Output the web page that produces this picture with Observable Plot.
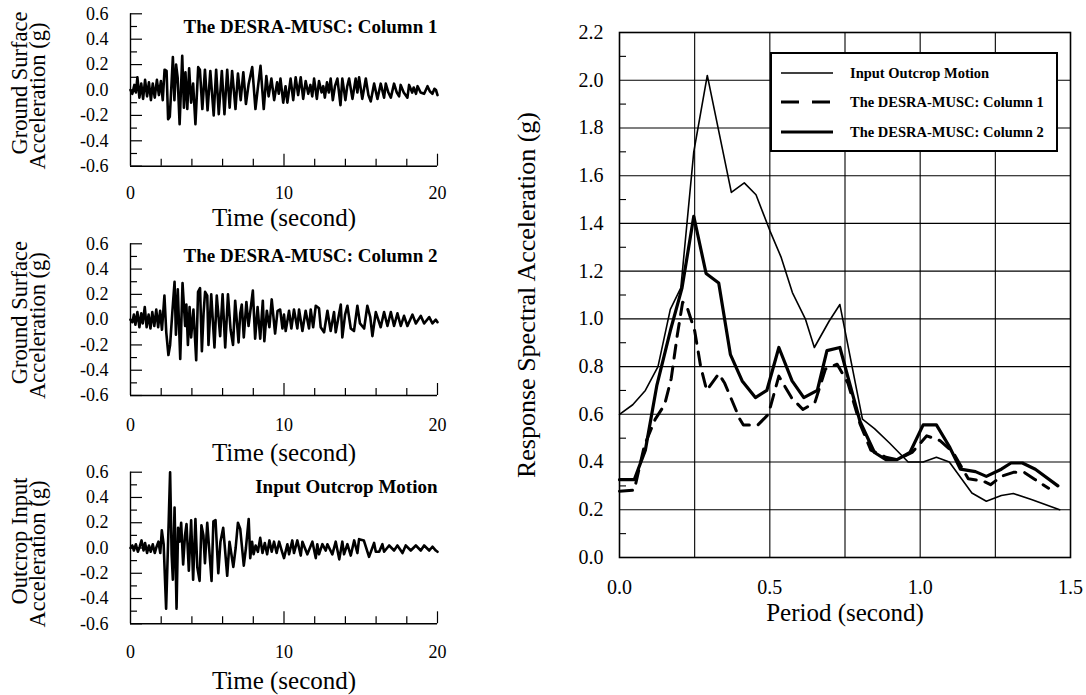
<!DOCTYPE html>
<html>
<head>
<meta charset="utf-8">
<script src="https://cdn.jsdelivr.net/npm/d3@7"></script>
<script src="https://cdn.jsdelivr.net/npm/@observablehq/plot@0.6"></script>
<style>
html, body { margin: 0; padding: 0; background: #fff; }
#wrap { position: relative; width: 1086px; height: 695px; overflow: hidden; background: #fff; }
.panel { position: absolute; }
#legend { position: absolute; left: 770px; top: 52px; width: 284px; height: 96px; border: 2px solid #000; background: #fff; }
#legend svg { display: block; }
</style>
</head>
<body>
<div id="wrap"></div>
<script>
const FONT = '"Liberation Serif", "Times New Roman", Times, serif';

// ---------- Time-history axes ----------
const timeTicks = [0, 10, 20];
const timeMinorTicks = [2, 4, 6, 8, 12, 14, 16, 18];
const accTicks = [-0.6, -0.4, -0.2, 0.0, 0.2, 0.4, 0.6];
const accMinorTicks = [-0.5, -0.3, -0.1, 0.1, 0.3, 0.5];

// ---------- Ground surface acceleration, DESRA-MUSC Column 1 ----------
const col1Time = [0.00,0.12,0.25,0.35,0.45,0.58,0.70,0.82,0.95,1.08,1.20,1.33,1.45,1.58,1.72,1.85,1.98,2.10,2.22,2.35,2.45,2.56,2.66,2.76,2.86,2.97,3.07,3.20,3.37,3.48,3.58,3.70,3.82,3.95,4.08,4.23,4.41,4.52,4.68,4.85,5.02,5.20,5.42,5.58,5.75,5.95,6.12,6.30,6.46,6.62,6.84,7.00,7.18,7.35,7.52,7.70,7.93,8.14,8.30,8.47,8.68,8.85,9.00,9.18,9.36,9.55,9.66,9.77,9.95,10.10,10.22,10.43,10.60,10.76,10.92,11.09,11.25,11.41,11.58,11.72,11.84,11.96,12.14,12.28,12.45,12.56,12.66,12.80,12.92,13.04,13.18,13.32,13.48,13.68,13.80,14.00,14.12,14.24,14.46,14.67,14.78,14.89,15.10,15.33,15.50,15.65,15.87,16.09,16.30,16.52,16.63,16.80,16.96,17.17,17.35,17.50,17.60,17.80,18.04,18.15,18.35,18.45,18.60,18.70,18.90,19.13,19.35,19.50,19.67,19.80,19.90,20.00];
const col1Acc = [0.00,-0.03,0.04,-0.02,0.10,-0.06,0.05,-0.07,0.08,-0.05,0.06,-0.08,0.05,-0.06,0.08,-0.04,0.07,-0.08,0.16,0.15,-0.23,-0.21,0.02,0.26,-0.08,0.20,0.10,-0.27,0.27,-0.14,0.14,-0.15,0.17,-0.10,0.05,-0.27,0.18,0.16,-0.15,0.16,-0.16,0.15,-0.20,0.16,-0.19,0.15,-0.19,0.16,-0.14,0.15,-0.15,0.13,-0.08,0.14,-0.11,0.05,0.18,-0.15,0.02,0.19,-0.15,0.11,-0.05,0.09,-0.08,0.06,-0.03,0.09,-0.10,0.03,-0.10,0.09,-0.08,0.10,-0.04,0.10,-0.07,0.07,-0.03,0.04,-0.05,0.09,-0.07,0.07,-0.02,0.03,-0.06,0.06,-0.02,0.09,-0.08,0.03,0.09,-0.12,0.09,-0.08,0.03,0.09,-0.07,0.09,-0.02,0.10,-0.07,0.09,-0.04,-0.09,0.05,-0.07,0.05,-0.06,0.05,-0.02,-0.06,0.05,-0.02,-0.05,0.04,-0.02,-0.06,0.04,-0.02,0.02,-0.03,0.03,-0.02,-0.03,0.03,-0.01,-0.03,0.01,0.00,-0.04];

// ---------- Ground surface acceleration, DESRA-MUSC Column 2 ----------
const col2Time = [0.00,0.12,0.22,0.32,0.45,0.58,0.70,0.80,0.93,1.05,1.18,1.30,1.42,1.55,1.68,1.80,1.93,2.05,2.21,2.33,2.47,2.58,2.72,2.87,2.96,3.08,3.24,3.39,3.56,3.64,3.74,3.85,3.95,4.10,4.28,4.40,4.53,4.65,4.76,4.86,5.00,5.08,5.26,5.47,5.62,5.84,6.00,6.17,6.35,6.52,6.68,6.82,7.04,7.15,7.25,7.38,7.55,7.69,7.97,8.12,8.28,8.45,8.62,8.72,8.88,9.05,9.20,9.42,9.58,9.75,9.90,10.00,10.11,10.33,10.48,10.65,10.87,10.98,11.20,11.41,11.63,11.74,11.90,12.07,12.28,12.39,12.61,12.83,13.04,13.26,13.37,13.70,13.80,13.98,14.13,14.35,14.56,14.78,14.95,15.22,15.43,15.62,15.76,15.98,16.30,16.52,16.74,16.96,17.17,17.39,17.61,17.82,18.04,18.37,18.59,18.91,19.13,19.46,19.67,19.89,20.00];
const col2Acc = [0.00,-0.02,0.04,-0.04,0.06,-0.06,0.05,-0.03,0.10,-0.06,0.04,-0.07,0.06,-0.05,0.08,-0.06,0.07,-0.08,0.19,-0.10,-0.28,-0.20,0.05,0.30,-0.12,0.24,-0.31,0.29,-0.05,0.12,-0.20,0.10,-0.14,0.08,-0.32,0.22,0.25,-0.25,0.05,0.22,0.19,-0.20,0.20,-0.22,0.19,-0.13,0.20,-0.22,0.20,-0.08,-0.20,0.15,-0.18,0.05,0.12,-0.14,0.14,-0.05,0.23,-0.15,0.10,-0.15,0.15,-0.17,0.07,-0.06,0.16,-0.11,0.07,0.08,-0.07,0.04,-0.09,0.07,-0.07,0.08,-0.07,0.08,-0.09,0.07,-0.07,0.08,-0.06,0.11,0.09,-0.06,-0.10,0.07,-0.09,0.06,-0.10,0.12,-0.14,0.04,0.11,-0.07,-0.09,0.11,-0.03,-0.07,0.11,0.02,-0.13,0.06,-0.06,0.06,-0.05,0.06,-0.05,0.05,-0.05,0.03,-0.05,0.04,-0.03,0.03,-0.03,0.02,-0.03,0.00,-0.02];

// ---------- Input outcrop motion ----------
const inputTime = [0.00,0.12,0.22,0.35,0.48,0.60,0.72,0.85,0.95,1.08,1.20,1.32,1.45,1.58,1.70,1.82,1.94,2.04,2.16,2.32,2.45,2.58,2.68,2.76,2.87,3.00,3.10,3.20,3.30,3.43,3.55,3.65,3.80,3.95,4.08,4.23,4.35,4.50,4.62,4.75,4.85,5.00,5.28,5.40,5.54,5.72,5.86,6.04,6.30,6.45,6.70,6.85,7.00,7.15,7.38,7.52,7.70,7.80,7.92,8.02,8.15,8.30,8.45,8.60,8.75,8.90,9.05,9.20,9.35,9.52,9.68,9.85,10.00,10.22,10.33,10.54,10.65,10.87,11.09,11.20,11.52,11.85,12.07,12.17,12.28,12.50,12.72,12.83,13.15,13.37,13.60,13.80,13.91,14.13,14.35,14.57,14.78,14.89,15.20,15.54,15.87,15.98,16.20,16.41,16.52,16.85,17.17,17.39,17.72,17.93,18.26,18.59,18.91,19.13,19.46,19.67,19.89,20.00];
const inputAcc = [0.00,0.02,-0.02,0.03,-0.03,0.01,0.06,-0.02,0.04,-0.04,0.02,-0.03,0.03,-0.04,0.01,0.05,-0.04,0.14,0.03,-0.48,0.05,0.60,-0.05,-0.25,0.32,-0.48,0.16,0.05,0.20,-0.13,0.10,0.19,-0.18,0.22,-0.25,0.23,-0.15,-0.26,0.18,0.10,-0.12,0.20,-0.26,0.21,0.22,-0.20,0.05,0.16,-0.22,0.05,-0.15,0.00,0.20,0.15,-0.14,0.00,0.23,-0.08,0.05,-0.05,0.02,-0.03,0.08,-0.04,0.04,-0.05,0.06,-0.03,0.05,-0.04,0.05,-0.02,-0.08,0.03,-0.05,0.06,-0.04,0.06,-0.06,0.05,-0.05,0.05,-0.08,0.03,-0.05,0.03,-0.02,0.03,-0.05,0.05,-0.09,0.05,-0.05,0.03,-0.06,0.06,-0.04,0.07,0.06,-0.07,0.04,-0.03,-0.03,0.03,-0.03,0.02,-0.02,0.02,-0.04,0.02,-0.02,0.02,-0.02,0.02,-0.02,0.01,-0.02,-0.03];

// ---------- Response spectra ----------
const periodTicks = [0.0, 0.5, 1.0, 1.5];
const periodGrid = [0.25, 0.5, 0.75, 1.0, 1.25];
const saTicks = [0.0, 0.2, 0.4, 0.6, 0.8, 1.0, 1.2, 1.4, 1.6, 1.8, 2.0, 2.2];
const saMinorTicks = [0.1, 0.3, 0.5, 0.7, 0.9, 1.1, 1.3, 1.5, 1.7, 1.9, 2.1];

const inputPeriod = [0.000,0.044,0.086,0.128,0.169,0.204,0.247,0.292,0.372,0.415,0.454,0.500,0.537,0.575,0.618,0.648,0.697,0.733,0.808,0.848,0.898,0.960,1.010,1.054,1.097,1.172,1.220,1.270,1.310,1.370,1.464];
const inputSa = [0.60,0.64,0.70,0.80,1.04,1.13,1.70,2.02,1.53,1.57,1.52,1.37,1.26,1.11,1.00,0.88,0.99,1.06,0.58,0.54,0.48,0.40,0.40,0.42,0.40,0.27,0.236,0.26,0.268,0.243,0.20];

const col1Period = [0.000,0.049,0.083,0.119,0.150,0.172,0.192,0.210,0.222,0.250,0.270,0.290,0.330,0.350,0.400,0.412,0.460,0.495,0.530,0.572,0.610,0.650,0.685,0.724,0.760,0.800,0.836,0.886,0.923,0.973,1.022,1.066,1.110,1.160,1.210,1.234,1.270,1.310,1.346,1.383,1.427];
const col1Sa = [0.278,0.282,0.47,0.58,0.64,0.75,0.93,1.07,1.06,0.95,0.80,0.70,0.77,0.73,0.58,0.555,0.555,0.60,0.76,0.67,0.62,0.65,0.79,0.81,0.73,0.56,0.45,0.42,0.41,0.44,0.51,0.49,0.44,0.33,0.32,0.305,0.34,0.357,0.357,0.326,0.29];

const col2Period = [0.000,0.049,0.086,0.124,0.169,0.208,0.247,0.288,0.330,0.369,0.408,0.452,0.490,0.530,0.574,0.613,0.658,0.690,0.733,0.800,0.848,0.886,0.923,0.966,1.010,1.054,1.097,1.134,1.184,1.220,1.270,1.302,1.340,1.383,1.458];
const col2Sa = [0.326,0.326,0.45,0.72,0.95,1.13,1.43,1.19,1.15,0.85,0.74,0.67,0.70,0.88,0.74,0.67,0.70,0.867,0.88,0.57,0.44,0.41,0.41,0.44,0.556,0.556,0.465,0.37,0.36,0.34,0.37,0.396,0.396,0.37,0.30];

const legendLabels = ["Input Outcrop Motion", "The DESRA-MUSC: Column 1", "The DESRA-MUSC: Column 2"];

const wrap = document.getElementById("wrap");
const fmt1 = d => d.toFixed(1);

function place(node, left, top) {
  node.classList.add("panel");
  node.style.left = left + "px";
  node.style.top = top + "px";
  wrap.appendChild(node);
}

function timePanel(t, a, title, lab1, lab2, cfg) {
  const width = 450, mL = 130, mR = 13;
  const innerW = width - mL - mR;
  const innerH = cfg.height - cfg.mt - cfg.mb;
  return Plot.plot({
    width, height: cfg.height,
    marginLeft: mL, marginRight: mR, marginTop: cfg.mt, marginBottom: cfg.mb,
    style: {fontFamily: FONT, background: "transparent", overflow: "visible", color: "#000"},
    x: {domain: [timeTicks[0], timeTicks[timeTicks.length - 1]], axis: null},
    y: {domain: [accTicks[0], accTicks[accTicks.length - 1]], axis: null},
    marks: [
      Plot.ruleX([timeTicks[0]], {stroke: "#000", strokeWidth: 1.4}),
      Plot.ruleY([accTicks[0]], {stroke: "#000", strokeWidth: 1.4}),
      Plot.tickY(accTicks, {y: d => d, insetRight: innerW - 12, stroke: "#000", strokeWidth: 1.2}),
      Plot.tickY(accMinorTicks, {y: d => d, insetRight: innerW - 7, stroke: "#000", strokeWidth: 1.2}),
      Plot.tickX(timeTicks.slice(1), {x: d => d, insetTop: innerH - 12, stroke: "#000", strokeWidth: 1.2}),
      Plot.tickX(timeMinorTicks, {x: d => d, insetTop: innerH - 7, stroke: "#000", strokeWidth: 1.2}),
      Plot.line(t, {x: t, y: a, stroke: "#000", strokeWidth: 2.6, strokeLinejoin: "round", curve: "linear"}),
      Plot.text(accTicks, {y: d => d, text: fmt1, frameAnchor: "left", textAnchor: "end", lineAnchor: "middle", dx: -22, fontSize: 18}),
      Plot.text(timeTicks, {x: d => d, text: d => String(d), frameAnchor: "bottom", lineAnchor: "middle", dy: cfg.tickDy, fontSize: 18}),
      Plot.text(["Time (second)"], {text: d => d, frameAnchor: "bottom", lineAnchor: "middle", dy: cfg.labDy, fontSize: 25}),
      Plot.text([lab1], {text: d => d, frameAnchor: "left", textAnchor: "middle", lineAnchor: "middle", dx: -111, dy: -7, rotate: -90, fontSize: 22.5}),
      Plot.text([lab2], {text: d => d, frameAnchor: "left", textAnchor: "middle", lineAnchor: "middle", dx: -93, dy: 6, rotate: -90, fontSize: 22.5}),
      Plot.text([title], {text: d => d, frameAnchor: "top-right", textAnchor: "end", lineAnchor: "middle", dy: cfg.titleDy, fontSize: 19, fontWeight: "bold"})
    ]
  });
}

place(timePanel(col1Time, col1Acc, "The DESRA-MUSC: Column 1", "Ground Surface", "Acceleration (g)",
  {height: 230, mt: 13.3, mb: 64.3, tickDy: 27, labDy: 52, titleDy: 13}), 0, 0);
place(timePanel(col2Time, col2Acc, "The DESRA-MUSC: Column 2", "Ground Surface", "Acceleration (g)",
  {height: 230, mt: 13.3, mb: 65, tickDy: 30, labDy: 57, titleDy: 12}), 0, 230);
place(timePanel(inputTime, inputAcc, "Input Outcrop Motion", "Outcrop Input", "Acceleration (g)",
  {height: 237, mt: 13.7, mb: 71.7, tickDy: 28, labDy: 57, titleDy: 15}), 0, 458);

// ---------- Spectrum ----------
(function () {
  const width = 606, height = 650, mL = 139, mR = 16, mT = 32, mB = 93;
  const innerW = width - mL - mR;
  const spec = Plot.plot({
    width, height, marginLeft: mL, marginRight: mR, marginTop: mT, marginBottom: mB,
    style: {fontFamily: FONT, background: "transparent", overflow: "visible", color: "#000"},
    x: {domain: [periodTicks[0], periodTicks[periodTicks.length - 1]], axis: null},
    y: {domain: [saTicks[0], saTicks[saTicks.length - 1]], axis: null},
    marks: [
      Plot.ruleX(periodGrid, {x: d => d, stroke: "#000", strokeWidth: 1.1}),
      Plot.ruleY(saTicks.slice(1, -1), {y: d => d, stroke: "#000", strokeWidth: 1.1}),
      Plot.tickY(saMinorTicks, {y: d => d, insetRight: innerW - 7, stroke: "#000", strokeWidth: 1.1}),
      Plot.frame({stroke: "#000", strokeWidth: 1.6}),
      Plot.line(inputPeriod, {x: inputPeriod, y: inputSa, stroke: "#000", strokeWidth: 1.6, strokeLinejoin: "round"}),
      Plot.line(col1Period, {x: col1Period, y: col1Sa, stroke: "#000", strokeWidth: 3, strokeDasharray: "13,9"}),
      Plot.line(col2Period, {x: col2Period, y: col2Sa, stroke: "#000", strokeWidth: 3.2, strokeLinejoin: "round"}),
      Plot.text(saTicks, {y: d => d, text: fmt1, frameAnchor: "left", textAnchor: "end", lineAnchor: "middle", dx: -16, fontSize: 20}),
      Plot.text(periodTicks, {x: d => d, text: fmt1, frameAnchor: "bottom", lineAnchor: "middle", dy: 30, fontSize: 20}),
      Plot.text(["Period (second)"], {text: d => d, frameAnchor: "bottom", lineAnchor: "middle", dy: 55, fontSize: 25}),
      Plot.text(["Response Spectral Acceleration (g)"], {text: d => d, frameAnchor: "left", textAnchor: "middle", lineAnchor: "middle", dx: -93, rotate: -90, fontSize: 26})
    ]
  });
  place(spec, 480, 0);

  // legend
  const leg = document.createElement("div");
  leg.id = "legend";
  const ns = "http://www.w3.org/2000/svg";
  const svg = document.createElementNS(ns, "svg");
  svg.setAttribute("width", 284);
  svg.setAttribute("height", 96);
  const styles = [
    {w: 1.6, dash: null},
    {w: 3, dash: "18,13"},
    {w: 3.2, dash: null}
  ];
  const rows = [19, 48, 78];
  legendLabels.forEach((lab, i) => {
    const ln = document.createElementNS(ns, "line");
    ln.setAttribute("x1", 9); ln.setAttribute("x2", 61);
    ln.setAttribute("y1", rows[i]); ln.setAttribute("y2", rows[i]);
    ln.setAttribute("stroke", "#000");
    ln.setAttribute("stroke-width", styles[i].w);
    if (styles[i].dash) ln.setAttribute("stroke-dasharray", styles[i].dash);
    svg.appendChild(ln);
    const tx = document.createElementNS(ns, "text");
    tx.setAttribute("x", 78); tx.setAttribute("y", rows[i]);
    tx.setAttribute("dy", "0.35em");
    tx.setAttribute("font-family", FONT);
    tx.setAttribute("font-size", 14.5);
    tx.setAttribute("font-weight", "bold");
    tx.textContent = lab;
    svg.appendChild(tx);
  });
  leg.appendChild(svg);
  wrap.appendChild(leg);
})();
</script>
</body>
</html>
